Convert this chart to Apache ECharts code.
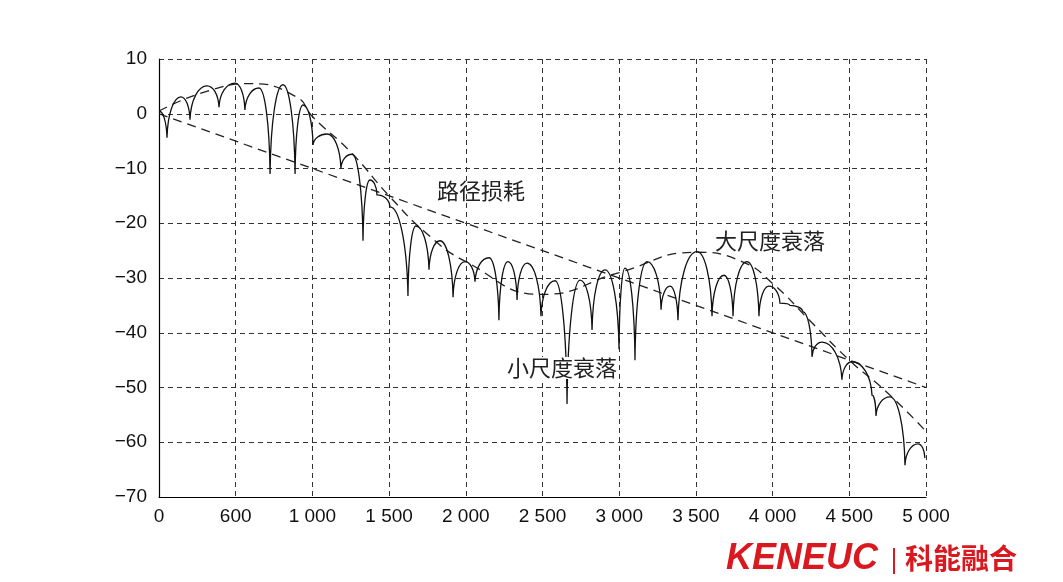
<!DOCTYPE html>
<html><head><meta charset="utf-8">
<script src="https://cdn.jsdelivr.net/npm/echarts@6/dist/echarts.min.js"></script>
<style>html,body{margin:0;padding:0;background:#fff}#c{width:1063px;height:582px}</style>
</head><body><div id="c"></div>
<script>
const xTickLabels = ['0','600','1 000','1 500','2 000','2 500','3 000','3 500','4 000','4 500','5 000'];
const smallScale = [[0,0.5],[52,-4.4],[143,3.1],[202,-1.1],[313,5.1],[391,1.2],[495,5.6],[560,0.7],[652,4.7],[724,-11],[808,5.3],[887,-11],[939,1.6],[1004,-5.7],[1095,-3.7],[1186,-10],[1258,-7.4],[1330,-23.2],[1375,-12.1],[1421,-14.8],[1506,-17],[1623,-33.3],[1675,-20.5],[1760,-28.5],[1832,-23.2],[1917,-33.5],[1995,-27],[2060,-30.7],[2151,-26.3],[2216,-37.7],[2275,-27],[2334,-34],[2399,-27.3],[2490,-37],[2582,-30.5],[2660,-53],[2745,-30.4],[2823,-39.5],[2908,-28.5],[2999,-43],[3038,-28.2],[3103,-45],[3181,-27],[3273,-35.8],[3331,-31.5],[3383,-37.7],[3507,-25.2],[3605,-37],[3683,-29.5],[3742,-37],[3833,-27],[3911,-37],[3976,-31.5],[4048,-34.6],[4113,-35],[4198,-36.2],[4257,-44.4],[4322,-41.7],[4452,-48.6],[4518,-45.3],[4648,-51.4],[4674,-55.2],[4765,-51.7],[4863,-64.2],[4948,-60.3],[4993,-62.9]];
const largeScale = [[0,0.5],[300,4],[600,5.5],[900,3],[1000,-0.5],[1250,-7],[1500,-15],[1750,-22],[2000,-27],[2500,-33],[3000,-29],[3500,-25.3],[3800,-27],[4000,-31],[4250,-38],[4500,-45],[4750,-51],[5000,-58]];
const pathLoss = [[0,0],[5000,-50]];
const labels = {path:'路径损耗', large:'大尺度衰落', small:'小尺度衰落'};

function renderFading(params, api){
  const pts = smallScale.map(p=>api.coord(p));
  let d = 'M'+pts[0][0]+','+pts[0][1];
  for(let i=1;i<pts.length;i++){
    const A=pts[i-1], B=pts[i];
    const dx=B[0]-A[0], dy=B[1]-A[1];
    let c1,c2;
    if(A[1]>B[1]){ // A lower (dip) -> B higher (peak)
      c1=[A[0]+0.05*dx, A[1]+0.6*dy]; c2=[B[0]-0.5*dx, B[1]];
    } else { // A peak -> B dip
      c1=[A[0]+0.5*dx, A[1]]; c2=[B[0]-0.05*dx, B[1]-0.6*dy];
    }
    d+=' C'+c1[0]+','+c1[1]+' '+c2[0]+','+c2[1]+' '+B[0]+','+B[1];
  }
  return {type:'path',shape:{pathData:d},style:{fill:null,stroke:'#111',lineWidth:1.3}};
}

const chart = echarts.init(document.getElementById('c'));
const font = 'Liberation Sans';
chart.setOption({
  animation:false,
  grid:{left:159,right:137,top:59,bottom:85},
  xAxis:{type:'value',min:0,max:5000,interval:500,
    axisLine:{onZero:false,lineStyle:{color:'#000',width:1.2}},axisTick:{show:false},
    axisLabel:{color:'#111',fontFamily:font,fontSize:19,margin:10,
      formatter:v=>xTickLabels[Math.round(v/500)]},
    splitLine:{show:true,lineStyle:{color:'#333',type:[5,4],width:1}}},
  yAxis:{type:'value',min:-70,max:10,interval:10,
    axisLine:{show:true,lineStyle:{color:'#000',width:1.2}},axisTick:{show:false},
    axisLabel:{color:'#111',fontFamily:font,fontSize:19,margin:12,
      formatter:v=>String(v).replace('-','−')},
    splitLine:{show:true,lineStyle:{color:'#333',type:[5,4],width:1}}},
  series:[
    {type:'custom',data:[[0,0]],renderItem:renderFading,z:3,clip:true},
    {type:'line',data:largeScale,showSymbol:false,smooth:0.5,
     lineStyle:{color:'#222',width:1.3,type:[9,6]},z:2},
    {type:'line',data:pathLoss,showSymbol:false,
     lineStyle:{color:'#222',width:1.3,type:[9,6]},z:2}
  ],
  graphic:[
    {type:'text',left:437,top:180,style:{text:labels.path,font:'22px "Noto Sans CJK SC"',fill:'#222'}},
    {type:'text',left:715,top:230,style:{text:labels.large,font:'22px "Noto Sans CJK SC"',fill:'#222',backgroundColor:'#fff'}},
    {type:'text',left:507,top:357,z:10,style:{text:labels.small,font:'22px "Noto Sans CJK SC"',fill:'#222',backgroundColor:'#fff'}},
    {type:'text',left:726,top:541,style:{text:'KENEUC',font:'italic bold 36px "Liberation Sans"',fill:'#d9181f'}},
    {type:'rect',shape:{x:893,y:548,width:2,height:26},style:{fill:'#d9181f'}},
    {type:'text',left:905,top:544,style:{text:'科能融合',font:'bold 28px "Noto Sans CJK SC"',fill:'#d9181f'}}
  ]
});
</script></body></html>
